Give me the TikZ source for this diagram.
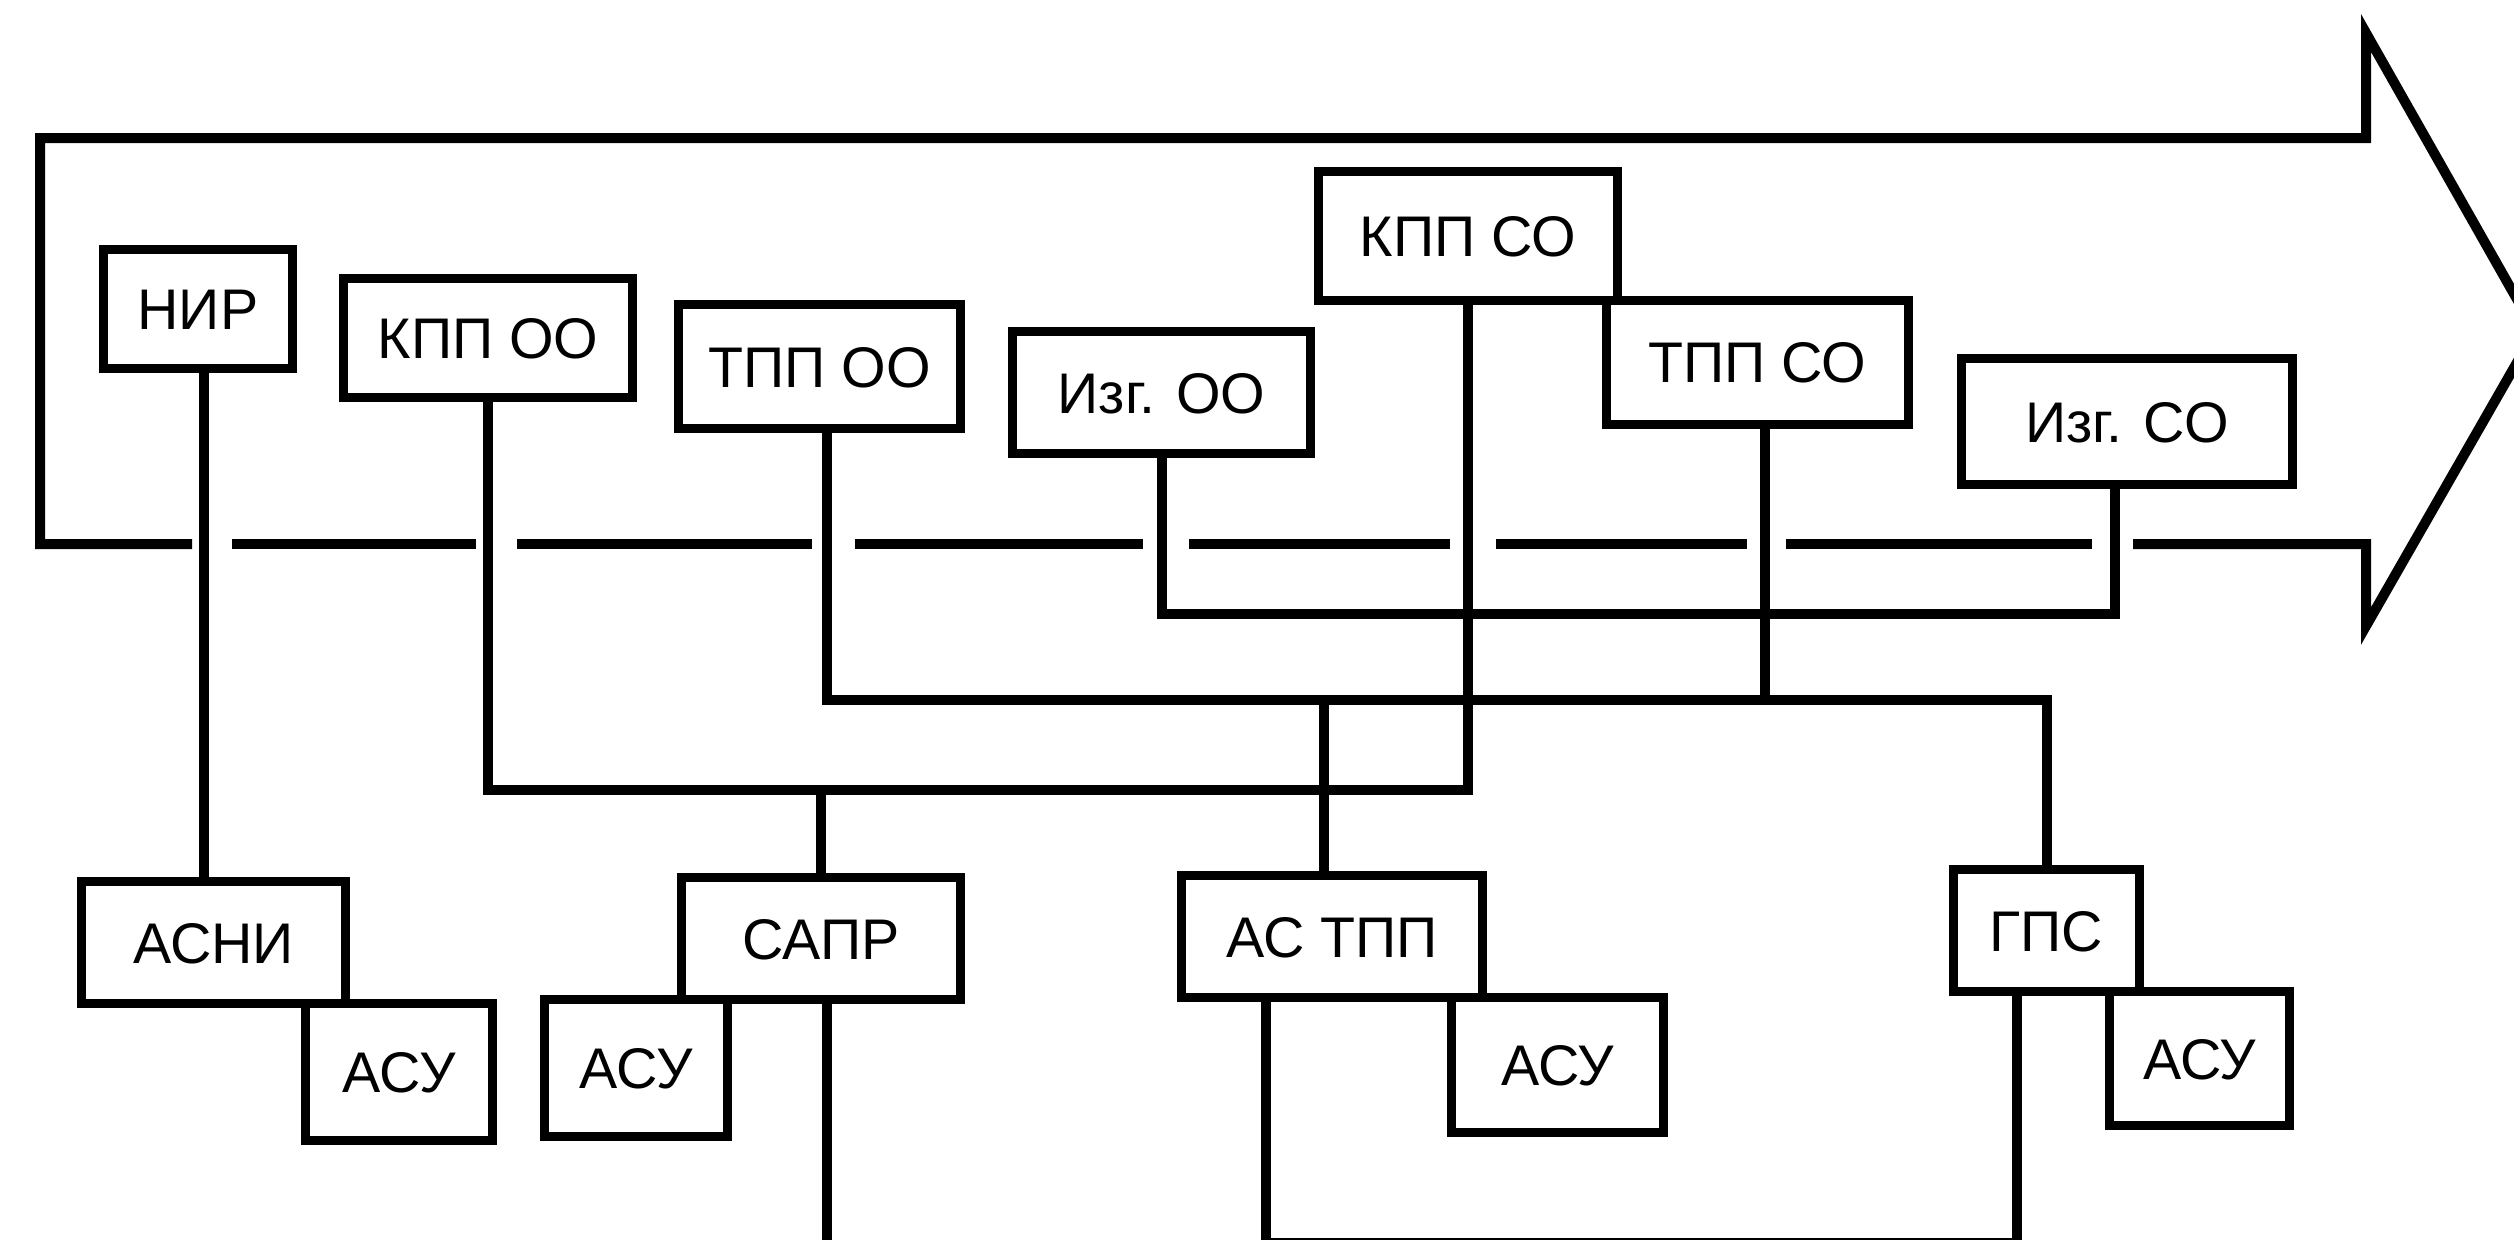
\documentclass[tikz,border=0pt]{standalone}
\usepackage{fontspec}
\setmainfont{Liberation Sans}
\tikzset{
  box/.style={draw, fill=white, line width=0.9mm, inner sep=0pt, outer sep=0pt,
    font=\fontsize{16.3pt}{19pt}\selectfont, text height=11.7pt, text depth=0pt},
  conn/.style={line width=1mm},
  arrowln/.style={line width=1mm}
}
\begin{document}
\begin{tikzpicture}[x=0.1mm, y=-0.1mm]
\clip (0,0) rectangle (2514,1240);
\fill[white] (0,0) rectangle (2514,1240);

% big process arrow (its lower edge is broken where the connectors pass)
\draw[arrowln] (192,544) -- (40,544) -- (40,138) -- (2366,138) -- (2366,33)
  -- (2535,331) -- (2366,626) -- (2366,544) -- (2133,544);
\foreach \a/\b in {232/476,517/812,855/1143,1189/1450,1496/1747,1786/2092}
  \draw[arrowln] (\a,544) -- (\b,544);

% upper row
\node[box, minimum width=18.9mm, minimum height=11.9mm] (nir)   at (198,309)     {НИР};
\node[box, minimum width=28.9mm, minimum height=11.9mm] (kppoo) at (488,338)     {КПП ОО};
\node[box, minimum width=28.2mm, minimum height=12.4mm] (tppoo) at (819.5,366.5) {ТПП ОО};
\node[box, minimum width=29.8mm, minimum height=12.2mm] (izgoo) at (1161.5,392.5){Изг. ОО};
\node[box, minimum width=29.9mm, minimum height=12.9mm] (kppso) at (1468,235.5)  {КПП СО};
\node[box, minimum width=30.2mm, minimum height=12.45mm] (tppso) at (1757.5,362.25) {ТПП СО};
\node[box, minimum width=33.1mm, minimum height=12.6mm] (izgso) at (2127,421.5)  {Изг. СО};

% lower row
\node[box, minimum width=26.4mm, minimum height=12.2mm] (asni)  at (213.5,942.5) {АСНИ};
\node[box, minimum width=18.7mm, minimum height=13.7mm] (asu1)  at (399,1072)    {АСУ};
\node[box, minimum width=27.9mm, minimum height=12.2mm] (sapr)  at (821,938.5)   {САПР};
\node[box, minimum width=18.3mm, minimum height=13.7mm] (asu2)  at (636,1068)    {АСУ};
\node[box, minimum width=30.1mm, minimum height=12.2mm] (astpp) at (1332,936.5)  {АС ТПП};
\node[box, minimum width=21.2mm, minimum height=13.5mm] (asu3)  at (1557.5,1065) {АСУ};
\node[box, minimum width=18.6mm, minimum height=12.2mm] (gps)   at (2046.5,930.5){ГПС};
\node[box, minimum width=18.0mm, minimum height=13.4mm] (asu4)  at (2199.5,1058.5){АСУ};

% helper coordinates
\coordinate (bK) at (0,790);
\coordinate (bT) at (0,700);
\coordinate (bI) at (0,614);
\coordinate (bB) at (0,1243);
\coordinate (bOut) at (0,1260);
\coordinate (xN) at (204,0);
\coordinate (xT1) at (827,0);
\coordinate (xT2) at (1765,0);
\coordinate (xAT) at (1324,0);
\coordinate (xI2) at (2115,0);
\coordinate (xS) at (827,0);
\coordinate (xA) at (1266,0);
\coordinate (xG) at (2017,0);

% connectors
\draw[conn] (xN |- nir.south) -- (xN |- asni.north);
\draw[conn] (kppoo.south) -- (kppoo.south |- bK) -- (kppso.south |- bK) -- (kppso.south);
\draw[conn] (sapr.north |- bK) -- (sapr.north);
\draw[conn] (xT1 |- tppoo.south) -- (xT1 |- bT) -- (gps.north |- bT) -- (gps.north);
\draw[conn] (xT2 |- tppso.south) -- (xT2 |- bT);
\draw[conn] (xAT |- bT) -- (xAT |- astpp.north);
\draw[conn] (izgoo.south) -- (izgoo.south |- bI) -- (xI2 |- bI) -- (xI2 |- izgso.south);
\draw[conn] (xS |- sapr.south) -- (xS |- bOut);
\draw[conn] (xA |- astpp.south) -- (xA |- bOut);
\draw[conn] (xG |- gps.south) -- (xG |- bOut);
\draw[conn] (xA |- bB) -- (xG |- bB);
\end{tikzpicture}
\end{document}
